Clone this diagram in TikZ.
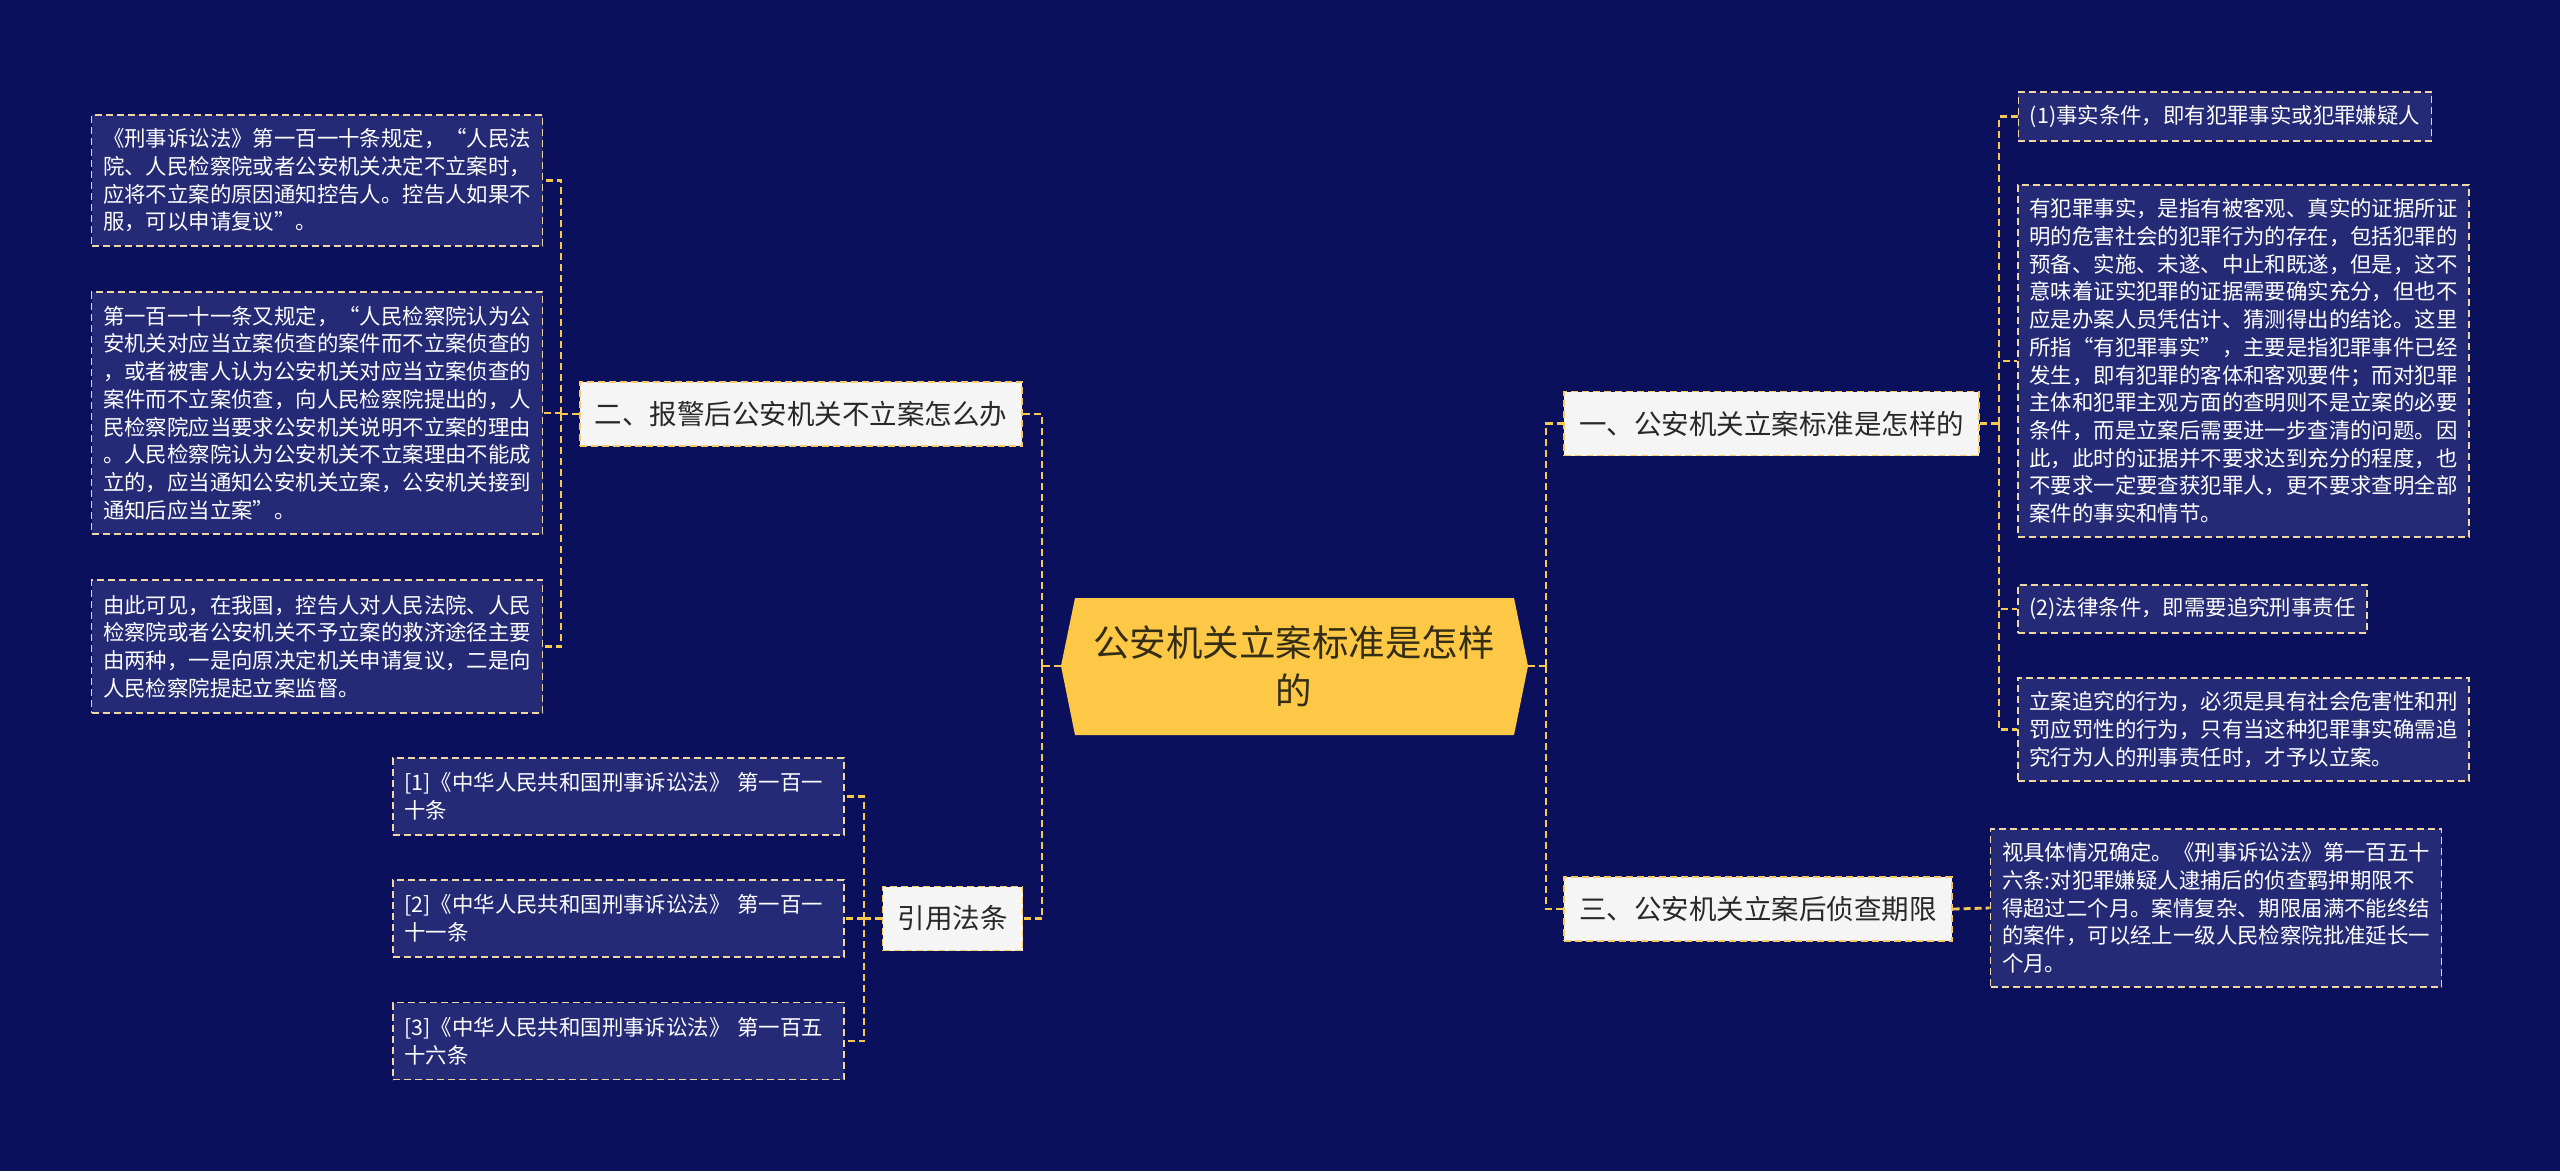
\documentclass[tikz,border=0pt]{standalone}
\usepackage{fontspec}
\setmainfont{Noto Sans CJK SC}
\definecolor{bgc}{RGB}{11,16,92}
\definecolor{leaffill}{RGB}{36,42,118}
\definecolor{leafborder}{RGB}{240,214,160}
\definecolor{branchfill}{RGB}{245,245,245}
\definecolor{branchborder}{RGB}{246,202,96}
\definecolor{connc}{RGB}{246,200,80}
\definecolor{centerfill}{RGB}{253,200,70}
\definecolor{textdark}{RGB}{40,40,40}
\definecolor{centertext}{RGB}{50,45,20}
\newcommand\leaffont{\fontsize{21.4}{27.7}\selectfont}
\newcommand\branchfont{\fontsize{27.5}{33}\selectfont}
\newcommand\centerfont{\fontsize{36.5}{48}\selectfont}
\tikzset{
  leaf/.style={draw=leafborder, fill=leaffill, dash pattern=on 7pt off 4pt, line width=1.8pt,
    text=white, font=\leaffont, align=left, inner xsep=11.5pt, inner ysep=10pt},
  wideleaf/.style={leaf, text width=428pt},
  branch/.style={draw=branchborder, fill=branchfill, dash pattern=on 7pt off 4pt, line width=1.8pt,
    text=textdark, font=\branchfont, minimum height=64pt, inner xsep=15pt},
  conn/.style={draw=connc, dash pattern=on 7pt off 4pt, line width=2.8pt}
}
\begin{document}
\begin{tikzpicture}[x=1pt,y=-1pt]
\fill[bgc] (0,0) rectangle (2560,1171);
\useasboundingbox (0,0) rectangle (2560,1171);

% connectors bus coordinates
\coordinate (rb) at (1546,666);
\coordinate (lb) at (1042,666);
\coordinate (rlb) at (1999,423.5);
\coordinate (llb) at (561,414);
\coordinate (rfb) at (864,918.5);

% center
\fill[centerfill] (1061,666) -- (1075,598) -- (1514,598) -- (1528,666) -- (1514,735) -- (1075,735) -- cycle;
\node[font=\centerfont, text=centertext, align=center] (center) at (1294,666) {公安机关立案标准是怎样\\的};
\coordinate (cW) at (1061,666);
\coordinate (cE) at (1528,666);

% branch nodes
\node[branch] (b1) at (1771.5,423.5) {一、公安机关立案标准是怎样的};
\node[branch] (b3) at (1758,909) {三、公安机关立案后侦查期限};
\node[branch] (b2) at (801,414) {二、报警后公安机关不立案怎么办};
\node[branch] (b4) at (952.5,918.5) {引用法条};

% right leaves
\node[leaf, minimum height=49pt] (l1) at (2225,116.5) {(1)事实条件，即有犯罪事实或犯罪嫌疑人};
\node[wideleaf, minimum height=352pt] (l2) at (2243.5,361) {有犯罪事实，是指有被客观、真实的证据所证\\明的危害社会的犯罪行为的存在，包括犯罪的\\预备、实施、未遂、中止和既遂，但是，这不\\意味着证实犯罪的证据需要确实充分，但也不\\应是办案人员凭估计、猜测得出的结论。这里\\所指“有犯罪事实”，主要是指犯罪事件已经\\发生，即有犯罪的客体和客观要件；而对犯罪\\主体和犯罪主观方面的查明则不是立案的必要\\条件，而是立案后需要进一步查清的问题。因\\此，此时的证据并不要求达到充分的程度，也\\不要求一定要查获犯罪人，更不要求查明全部\\案件的事实和情节。};
\node[leaf, minimum height=48pt] (l3) at (2192.5,609) {(2)法律条件，即需要追究刑事责任};
\node[wideleaf, minimum height=103pt] (l4) at (2243.5,729.5) {立案追究的行为，必须是具有社会危害性和刑\\罚应罚性的行为，只有当这种犯罪事实确需追\\究行为人的刑事责任时，才予以立案。};
\node[wideleaf, minimum height=158pt] (l5) at (2216,908) {视具体情况确定。《刑事诉讼法》第一百五十\\六条:对犯罪嫌疑人逮捕后的侦查羁押期限不\\得超过二个月。案情复杂、期限届满不能终结\\的案件，可以经上一级人民检察院批准延长一\\个月。};

% left leaves
\node[wideleaf, minimum height=131pt] (ll1) at (317,180.5) {《刑事诉讼法》第一百一十条规定，“人民法\\院、人民检察院或者公安机关决定不立案时，\\应将不立案的原因通知控告人。控告人如果不\\服，可以申请复议”。};
\node[wideleaf, minimum height=242pt] (ll2) at (317,413) {第一百一十一条又规定，“人民检察院认为公\\安机关对应当立案侦查的案件而不立案侦查的\\，或者被害人认为公安机关对应当立案侦查的\\案件而不立案侦查，向人民检察院提出的，人\\民检察院应当要求公安机关说明不立案的理由\\。人民检察院认为公安机关不立案理由不能成\\立的，应当通知公安机关立案，公安机关接到\\通知后应当立案”。};
\node[wideleaf, minimum height=133pt] (ll3) at (317,646.5) {由此可见，在我国，控告人对人民法院、人民\\检察院或者公安机关不予立案的救济途径主要\\由两种，一是向原决定机关申请复议，二是向\\人民检察院提起立案监督。};

% reference leaves
\node[wideleaf, minimum height=77pt] (r1) at (618.5,796.5) {[1]《中华人民共和国刑事诉讼法》 第一百一\\十条};
\node[wideleaf, minimum height=77pt] (r2) at (618.5,918.5) {[2]《中华人民共和国刑事诉讼法》 第一百一\\十一条};
\node[wideleaf, minimum height=77pt] (r3) at (618.5,1041) {[3]《中华人民共和国刑事诉讼法》 第一百五\\十六条};

% connectors
\draw[conn] (cE) -- (rb);
\draw[conn] (rb) |- (b1.west);
\draw[conn] (rb) |- (b3.west);
\draw[conn] (cW) -- (lb);
\draw[conn] (lb) |- (b2.east);
\draw[conn] (lb) |- (b4.east);

\draw[conn] (b1.east) -- (rlb);
\draw[conn] (rlb) |- (l1.west);
\draw[conn] (rlb) |- (l2.west);
\draw[conn] (rlb) |- (l3.west);
\draw[conn] (rlb) |- (l4.west);
\draw[conn] (b3.east) -- (l5.west);

\draw[conn] (b2.west) -- (llb);
\draw[conn] (llb) |- (ll1.east);
\draw[conn] (llb) |- (ll2.east);
\draw[conn] (llb) |- (ll3.east);

\draw[conn] (b4.west) -- (rfb);
\draw[conn] (rfb) |- (r1.east);
\draw[conn] (rfb) |- (r2.east);
\draw[conn] (rfb) |- (r3.east);
\end{tikzpicture}
\end{document}
